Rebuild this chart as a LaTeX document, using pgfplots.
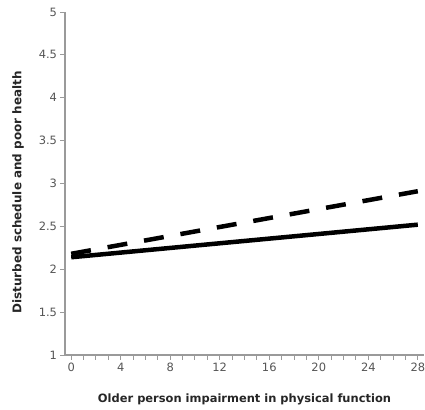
\documentclass[border=0pt]{standalone}
\usepackage{pgfplots}
\pgfplotsset{compat=1.18}
\usepackage{fontspec}
\setmainfont{DejaVu Sans}
\definecolor{axgray}{HTML}{9A9A9A}
\definecolor{txtgray}{HTML}{555555}
\begin{document}
\begin{tikzpicture}
\begin{axis}[
  at={(0,0)}, anchor=south west,
  width=359bp, height=343bp, scale only axis,
  xmin=-0.5, xmax=28.5, ymin=1, ymax=5,
  axis x line*=bottom, axis y line*=left,
  axis line style={axgray, line width=1.2pt},
  xtick={0,4,...,28}, minor xtick={0,1,...,28},
  ytick={1,1.5,...,5},
  yticklabels={1,1.5,2,2.5,3,3.5,4,4.5,5},
  tick align=outside,
  major tick length=4.5bp, minor tick length=4.5bp,
  tick style={axgray, line width=1pt},
  ticklabel style={font=\fontsize{11.5}{13}\selectfont, text=txtgray},
  /pgf/number format/assume math mode=true,
  xlabel={\bfseries Older person impairment in physical function},
  ylabel={\bfseries Disturbed schedule and poor health},
  xlabel style={font=\fontsize{11.5}{13}\selectfont, text=black!85, at={(axis description cs:0.5,0)}, anchor=center, yshift=-44bp},
  ylabel style={font=\fontsize{12}{14}\selectfont, text=black!85, at={(axis description cs:0,0.5)}, anchor=center, yshift=47bp, xshift=-9bp},
  clip=false,
]
\addplot[black, line width=4.5bp, dash pattern=on 20bp off 17bp] coordinates {(0,2.18) (28,2.91)};
\addplot[black, line width=4.5bp] coordinates {(0,2.14) (28,2.52)};
\end{axis}
\pgfresetboundingbox
\path (-65bp,-55bp) rectangle (360bp,355bp);
\end{tikzpicture}
\end{document}
